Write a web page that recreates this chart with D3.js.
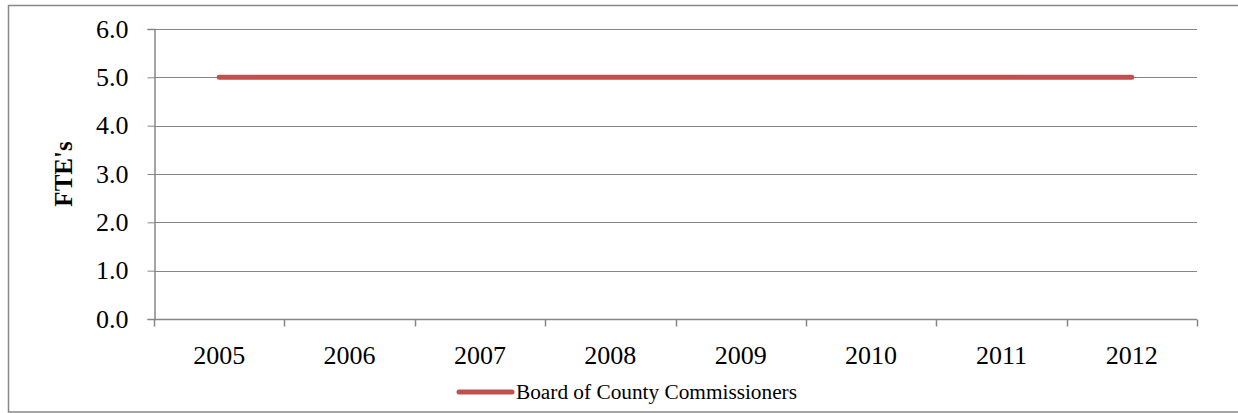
<!DOCTYPE html>
<html>
<head>
<meta charset="utf-8">
<script src="https://cdn.jsdelivr.net/npm/d3@7"></script>
<style>
  html, body { margin: 0; padding: 0; background: #fff; }
  svg { display: block; }
  text { font-family: "Liberation Serif", "Times New Roman", serif; fill: #000; }
</style>
</head>
<body>
<svg id="chart" width="1238" height="413"></svg>
<script>
// FTE counts per fiscal year
const years = ["2005", "2006", "2007", "2008", "2009", "2010", "2011", "2012"];
const fteValues = [5, 5, 5, 5, 5, 5, 5, 5];
const yTicks = [0, 1, 2, 3, 4, 5, 6];
const seriesName = "Board of County Commissioners";
const yTitle = "FTE's";

const svg = d3.select("#chart");
const plot = { left: 154, right: 1197, top: 29, bottom: 319 };
const gridColor = "#868686";
const lineColor = "#C0504D";
const serif = '"Liberation Serif", "Times New Roman", serif';

// outer frame
svg.append("rect")
  .attr("x", 8.5).attr("y", 5.5)
  .attr("width", 1240).attr("height", 406.5)
  .attr("fill", "none").attr("stroke", "#878787").attr("stroke-width", 1.5);

const x = d3.scaleBand().domain(years).range([plot.left, plot.right]).padding(0);
const y = d3.scaleLinear().domain([0, 6]).range([plot.bottom, plot.top]);

// horizontal gridlines
svg.append("g")
  .selectAll("line")
  .data(yTicks.filter(d => d > 0))
  .join("line")
  .attr("x1", plot.left).attr("x2", plot.right)
  .attr("y1", d => Math.round(y(d)) + 0.5).attr("y2", d => Math.round(y(d)) + 0.5)
  .attr("stroke", gridColor).attr("stroke-width", 1);

// y axis
const yAxis = svg.append("g")
  .attr("transform", `translate(${plot.left + 0.5},0)`)
  .call(d3.axisLeft(y).tickValues(yTicks).tickFormat(d3.format(".1f")).tickSize(7).tickPadding(19));
yAxis.attr("font-family", serif).attr("font-size", 26);
yAxis.select(".domain").attr("stroke", gridColor).attr("stroke-width", 1.5);
yAxis.selectAll(".tick line").attr("stroke", gridColor).attr("stroke-width", 1);
yAxis.selectAll(".tick text")
  .style("font-family", serif)
  .style("font-size", "26px").attr("fill", "#000");

// x axis with ticks at category boundaries
const xAxisG = svg.append("g").attr("transform", `translate(0,${plot.bottom + 0.5})`);
xAxisG.append("line")
  .attr("x1", plot.left).attr("x2", plot.right)
  .attr("stroke", gridColor).attr("stroke-width", 1.5);
const boundaries = years.map(d => x(d)).concat([x(years[years.length - 1]) + x.bandwidth()]);
xAxisG.selectAll("line.tk")
  .data(boundaries)
  .join("line").attr("class", "tk")
  .attr("x1", d => Math.round(d) + 0.5).attr("x2", d => Math.round(d) + 0.5)
  .attr("y1", 0).attr("y2", 7)
  .attr("stroke", gridColor).attr("stroke-width", 1.5);
xAxisG.selectAll("text")
  .data(years)
  .join("text")
  .attr("x", d => x(d) + x.bandwidth() / 2)
  .attr("y", 44)
  .attr("text-anchor", "middle")
  .style("font-size", "26px")
  .text(d => d);

// y axis title
svg.append("text")
  .attr("transform", `translate(72,174) rotate(-90)`)
  .attr("text-anchor", "middle")
  .style("font-size", "25px").style("font-weight", "bold")
  .text(yTitle);

// series line
const line = d3.line()
  .x((d, i) => x(years[i]) + x.bandwidth() / 2)
  .y(d => y(d));
svg.append("path")
  .datum(fteValues)
  .attr("d", line)
  .attr("fill", "none")
  .attr("stroke", lineColor)
  .attr("stroke-width", 5)
  .attr("stroke-linecap", "round");

// legend
const lg = svg.append("g").attr("transform", "translate(0,392)");
lg.append("line")
  .attr("x1", 459).attr("x2", 512)
  .attr("y1", 0).attr("y2", 0)
  .attr("stroke", lineColor).attr("stroke-width", 5).attr("stroke-linecap", "round");
lg.append("text")
  .attr("x", 516).attr("y", 7)
  .style("font-size", "21.3px")
  .text(seriesName);
</script>
</body>
</html>
